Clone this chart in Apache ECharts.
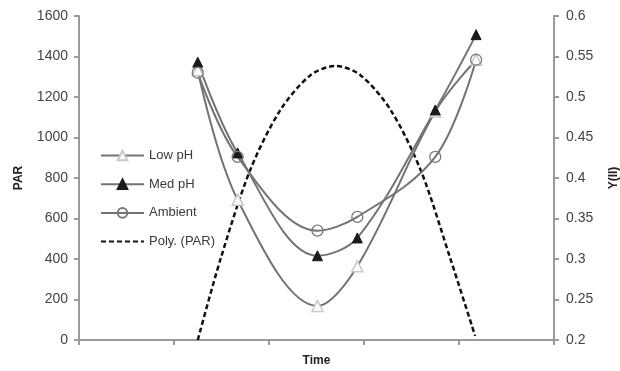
<!DOCTYPE html>
<html>
<head>
<meta charset="utf-8">
<script src="https://cdn.jsdelivr.net/npm/echarts@6/dist/echarts.min.js"></script>
<style>
  html, body { margin: 0; padding: 0; background: #fff; }
  #chart { width: 620px; height: 371px; }
</style>
</head>
<body>
<div id="chart"></div>
<script>
// sample times (x position on the Time axis, 0..5)
const times = [1.25, 1.67, 2.51, 2.93, 3.75, 4.18];
// Y(II) readings
const lowPH = [0.533, 0.373, 0.242, 0.291, 0.482, 0.546];
const medPH = [0.543, 0.431, 0.304, 0.326, 0.484, 0.577];
const ambient = [0.530, 0.426, 0.335, 0.352, 0.426, 0.546];
// PAR polynomial trendline
const polyTimes = [1.25, 1.49, 1.80, 2.12, 2.44, 2.70, 2.96, 3.28, 3.60, 3.91, 4.17];
const polyPAR = [0, 400, 837, 1136, 1309, 1353, 1309, 1136, 835, 400, 20];

const pairs = (xs, ys) => xs.map((x, i) => [x, ys[i]]);

const chart = echarts.init(document.getElementById('chart'));

const axisGray = '#9a9a9a';
const lineGray = '#737373';
const font = 'Liberation Sans, Arial, sans-serif';

const option = {
  animation: false,
  textStyle: { fontFamily: font },
  grid: { left: 79, right: 66, top: 16, bottom: 31, containLabel: false, outerBoundsMode: 'none' },
  legend: {
    orient: 'vertical',
    left: 95,
    top: 144,
    itemWidth: 43,
    itemHeight: 12,
    itemGap: 15.7,
    textStyle: { fontSize: 13, color: '#3a3a3a', fontFamily: font },
    data: [
      'Low pH',
      'Med pH',
      'Ambient',
      { name: 'Poly. (PAR)', itemStyle: { opacity: 0 } },
    ],
  },
  xAxis: {
    type: 'value',
    min: 0,
    max: 5,
    interval: 1,
    name: 'Time',
    nameLocation: 'middle',
    nameGap: 15,
    nameTextStyle: { fontWeight: 'bold', fontSize: 12, color: '#222' },
    axisLine: { lineStyle: { color: axisGray, width: 2 } },
    axisTick: { show: true, length: 5, lineStyle: { color: axisGray, width: 2 } },
    axisLabel: { show: false },
    splitLine: { show: false },
  },
  yAxis: [
    {
      type: 'value',
      min: 0,
      max: 1600,
      interval: 200,
      name: 'PAR',
      nameLocation: 'middle',
      nameRotate: 90,
      nameGap: 54,
      nameTextStyle: { fontWeight: 'bold', fontSize: 12, color: '#222' },
      axisLine: { show: true, lineStyle: { color: axisGray, width: 2 } },
      axisTick: { show: true, length: 5, lineStyle: { color: axisGray, width: 2 } },
      axisLabel: { fontSize: 14, color: '#444', margin: 11, formatter: (v) => String(v) },
      splitLine: { show: false },
    },
    {
      type: 'value',
      min: 0.2,
      max: 0.6,
      interval: 0.05,
      name: 'Y(II)',
      nameLocation: 'middle',
      nameRotate: 90,
      nameGap: 54,
      nameTextStyle: { fontWeight: 'bold', fontSize: 12, color: '#222' },
      axisLine: { show: true, lineStyle: { color: axisGray, width: 2 } },
      axisTick: { show: true, length: 5, lineStyle: { color: axisGray, width: 2 } },
      axisLabel: { fontSize: 14, color: '#444', margin: 12, formatter: (v) => String(+v.toFixed(2)) },
      splitLine: { show: false },
    },
  ],
  series: [
    {
      name: 'Low pH',
      type: 'line',
      yAxisIndex: 1,
      smooth: 0.35,
      data: pairs(times, lowPH),
      lineStyle: { color: lineGray, width: 2 },
      symbol: 'triangle',
      symbolSize: 11,
      itemStyle: { color: '#fff', borderColor: '#c8c8c8', borderWidth: 1.5 },
    },
    {
      name: 'Med pH',
      type: 'line',
      yAxisIndex: 1,
      smooth: 0.35,
      data: pairs(times, medPH),
      lineStyle: { color: lineGray, width: 2 },
      symbol: 'triangle',
      symbolSize: 10,
      itemStyle: { color: '#1a1a1a', borderColor: '#1a1a1a', borderWidth: 1 },
    },
    {
      name: 'Ambient',
      type: 'line',
      yAxisIndex: 1,
      smooth: 0.35,
      data: pairs(times, ambient),
      lineStyle: { color: lineGray, width: 2 },
      symbol: 'circle',
      symbolSize: 11,
      itemStyle: { color: 'rgba(255,255,255,0)', borderColor: '#7a7a7a', borderWidth: 1.3 },
    },
    {
      name: 'Poly. (PAR)',
      type: 'line',
      yAxisIndex: 0,
      smooth: 0.3,
      showSymbol: false,
      symbol: 'none',
      data: pairs(polyTimes, polyPAR),
      lineStyle: { color: '#111', width: 2.5, type: [5, 3] },
      itemStyle: { color: '#111' },
      z: 1,
    },
  ],
};

chart.setOption(option);
</script>
</body>
</html>
